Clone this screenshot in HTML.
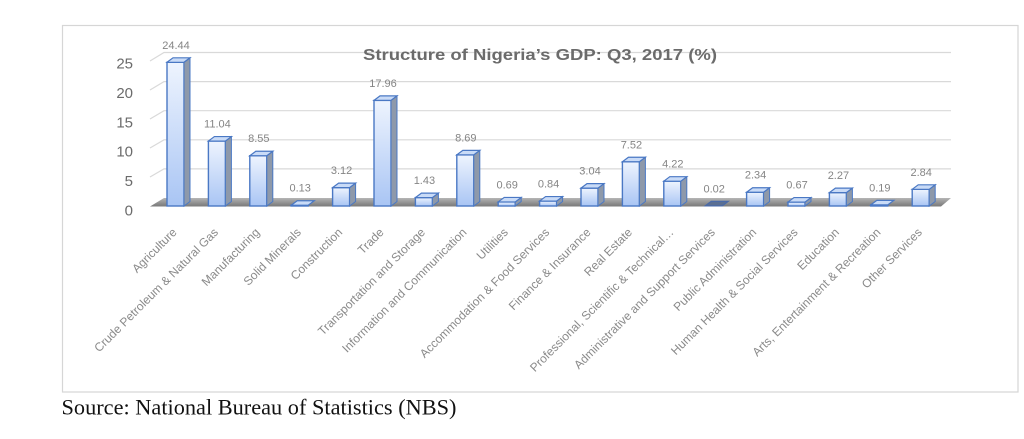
<!DOCTYPE html>
<html>
<head>
<meta charset="utf-8">
<style>
  html,body{margin:0;padding:0;background:#fff;}
  body{width:1024px;height:439px;overflow:hidden;position:relative;}
  svg{position:absolute;left:0;top:0;}
  .f{fill:url(#gf);stroke:#4a78c4;stroke-width:1.4;}
  .s{fill:#8e99aa;stroke:#4a78c4;stroke-width:1;}
  .t{fill:#c9dbf7;stroke:#4a78c4;stroke-width:1.2;}
  .dl{font-family:"Liberation Sans",sans-serif;font-size:11px;fill:#858585;text-anchor:middle;}
  .yl{font-family:"Liberation Sans",sans-serif;font-size:15px;fill:#6b6b6b;text-anchor:end;}
  .xl{font-family:"Liberation Sans",sans-serif;font-size:12px;fill:#8a8a8a;text-anchor:end;}
  .gl{stroke:#d9d9d9;stroke-width:1.2;fill:none;}
</style>
</head>
<body>
<svg width="1024" height="439" viewBox="0 0 1024 439" xmlns="http://www.w3.org/2000/svg">
  <defs>
    <linearGradient id="gf" x1="0" y1="0" x2="0" y2="1">
      <stop offset="0" stop-color="#eef4fe"/>
      <stop offset="1" stop-color="#a9c5f4"/>
    </linearGradient>
    <linearGradient id="gfl" x1="0" y1="0" x2="0" y2="1">
      <stop offset="0" stop-color="#b5b5b5"/>
      <stop offset="0.6" stop-color="#8f8f8f"/>
      <stop offset="1" stop-color="#7a7a7a"/>
    </linearGradient>
  </defs>

  <!-- frame -->
  <rect x="62.5" y="25.5" width="955.5" height="366.5" fill="#fff" stroke="#d6d6d6" stroke-width="1.2"/>

  <!-- gridlines -->
  <polyline class="gl" points="150,61 164,52.5 951,52.5"/>
  <polyline class="gl" points="150,90 164,81.6 951,81.6"/>
  <polyline class="gl" points="150,119 164,110.7 951,110.7"/>
  <polyline class="gl" points="150,148 164,139.8 951,139.8"/>
  <polyline class="gl" points="150,177 164,168.9 951,168.9"/>

  <!-- floor -->
  <polygon points="150,206.5 941,206.5 951,198 164,198" fill="url(#gfl)"/>

  <!-- bars -->
  <g transform="translate(167,62.29)"><rect class="f" width="17" height="143.71"/><polygon class="s" points="17,0 23,-4.5 23,139.21 17,143.71"/><polygon class="t" points="0,0 6,-4.5 23,-4.5 17,0"/></g>
  <g transform="translate(208.4,141.08)"><rect class="f" width="17" height="64.92"/><polygon class="s" points="17,0 23,-4.5 23,60.42 17,64.92"/><polygon class="t" points="0,0 6,-4.5 23,-4.5 17,0"/></g>
  <g transform="translate(249.8,155.73)"><rect class="f" width="17" height="50.27"/><polygon class="s" points="17,0 23,-4.5 23,45.77 17,50.27"/><polygon class="t" points="0,0 6,-4.5 23,-4.5 17,0"/></g>
  <g transform="translate(291.2,205.24)"><rect class="f" width="17" height="0.76"/><polygon class="t" points="0,0 6,-4.5 23,-4.5 17,0"/></g>
  <g transform="translate(332.6,187.65)"><rect class="f" width="17" height="18.35"/><polygon class="s" points="17,0 23,-4.5 23,13.85 17,18.35"/><polygon class="t" points="0,0 6,-4.5 23,-4.5 17,0"/></g>
  <g transform="translate(374,100.4)"><rect class="f" width="17" height="105.6"/><polygon class="s" points="17,0 23,-4.5 23,101.1 17,105.6"/><polygon class="t" points="0,0 6,-4.5 23,-4.5 17,0"/></g>
  <g transform="translate(415.4,197.59)"><rect class="f" width="17" height="8.41"/><polygon class="s" points="17,0 23,-4.5 23,3.91 17,8.41"/><polygon class="t" points="0,0 6,-4.5 23,-4.5 17,0"/></g>
  <g transform="translate(456.8,154.9)"><rect class="f" width="17" height="51.1"/><polygon class="s" points="17,0 23,-4.5 23,46.6 17,51.1"/><polygon class="t" points="0,0 6,-4.5 23,-4.5 17,0"/></g>
  <g transform="translate(498.2,201.94)"><rect class="f" width="17" height="4.06"/><polygon class="s" points="17,0 23,-4.5 23,-0.44 17,4.06"/><polygon class="t" points="0,0 6,-4.5 23,-4.5 17,0"/></g>
  <g transform="translate(539.6,201.06)"><rect class="f" width="17" height="4.94"/><polygon class="s" points="17,0 23,-4.5 23,0.44 17,4.94"/><polygon class="t" points="0,0 6,-4.5 23,-4.5 17,0"/></g>
  <g transform="translate(581,188.12)"><rect class="f" width="17" height="17.88"/><polygon class="s" points="17,0 23,-4.5 23,13.38 17,17.88"/><polygon class="t" points="0,0 6,-4.5 23,-4.5 17,0"/></g>
  <g transform="translate(622.4,161.78)"><rect class="f" width="17" height="44.22"/><polygon class="s" points="17,0 23,-4.5 23,39.72 17,44.22"/><polygon class="t" points="0,0 6,-4.5 23,-4.5 17,0"/></g>
  <g transform="translate(663.8,181.19)"><rect class="f" width="17" height="24.81"/><polygon class="s" points="17,0 23,-4.5 23,20.31 17,24.81"/><polygon class="t" points="0,0 6,-4.5 23,-4.5 17,0"/></g>
  <g transform="translate(705.2,205.88)"><polygon points="0,0 6,-4.5 23,-4.5 17,0" fill="#5b6f92" stroke="#4a6aa8" stroke-width="1.2"/></g>
  <g transform="translate(746.6,192.24)"><rect class="f" width="17" height="13.76"/><polygon class="s" points="17,0 23,-4.5 23,9.26 17,13.76"/><polygon class="t" points="0,0 6,-4.5 23,-4.5 17,0"/></g>
  <g transform="translate(788,202.06)"><rect class="f" width="17" height="3.94"/><polygon class="s" points="17,0 23,-4.5 23,-0.56 17,3.94"/><polygon class="t" points="0,0 6,-4.5 23,-4.5 17,0"/></g>
  <g transform="translate(829.4,192.65)"><rect class="f" width="17" height="13.35"/><polygon class="s" points="17,0 23,-4.5 23,8.85 17,13.35"/><polygon class="t" points="0,0 6,-4.5 23,-4.5 17,0"/></g>
  <g transform="translate(870.8,204.88)"><rect class="f" width="17" height="1.12"/><polygon class="t" points="0,0 6,-4.5 23,-4.5 17,0"/></g>
  <g transform="translate(912.2,189.3)"><rect class="f" width="17" height="16.7"/><polygon class="s" points="17,0 23,-4.5 23,12.2 17,16.7"/><polygon class="t" points="0,0 6,-4.5 23,-4.5 17,0"/></g>

  <!-- data labels -->
  <text class="dl" x="176" y="48.8">24.44</text>
  <text class="dl" x="217.4" y="127.6">11.04</text>
  <text class="dl" x="258.8" y="142.2">8.55</text>
  <text class="dl" x="300.2" y="191.7">0.13</text>
  <text class="dl" x="341.6" y="174.1">3.12</text>
  <text class="dl" x="383" y="86.9">17.96</text>
  <text class="dl" x="424.4" y="184.1">1.43</text>
  <text class="dl" x="465.8" y="141.4">8.69</text>
  <text class="dl" x="507.2" y="188.4">0.69</text>
  <text class="dl" x="548.6" y="187.6">0.84</text>
  <text class="dl" x="590" y="174.6">3.04</text>
  <text class="dl" x="631.4" y="148.3">7.52</text>
  <text class="dl" x="672.8" y="167.7">4.22</text>
  <text class="dl" x="714.2" y="192.4">0.02</text>
  <text class="dl" x="755.6" y="178.7">2.34</text>
  <text class="dl" x="797" y="188.6">0.67</text>
  <text class="dl" x="838.4" y="179.2">2.27</text>
  <text class="dl" x="879.8" y="191.4">0.19</text>
  <text class="dl" x="921.2" y="175.8">2.84</text>

  <!-- title -->
  <text x="363" y="60" font-family="'Liberation Sans',sans-serif" font-size="16" font-weight="bold" fill="#6b6b6b" textLength="354" lengthAdjust="spacingAndGlyphs">Structure of Nigeria’s GDP: Q3, 2017 (%)</text>

  <!-- y axis labels -->
  <text class="yl" x="133" y="68.6">25</text>
  <text class="yl" x="133" y="97.9">20</text>
  <text class="yl" x="133" y="127.3">15</text>
  <text class="yl" x="133" y="156.6">10</text>
  <text class="yl" x="133" y="185.9">5</text>
  <text class="yl" x="133" y="215.3">0</text>

  <!-- x axis labels -->
  <text class="xl" transform="translate(177.5,233) rotate(-45)">Agriculture</text>
  <text class="xl" transform="translate(218.9,233) rotate(-45)">Crude Petroleum &amp; Natural Gas</text>
  <text class="xl" transform="translate(260.3,233) rotate(-45)">Manufacturing</text>
  <text class="xl" transform="translate(301.7,233) rotate(-45)">Solid Minerals</text>
  <text class="xl" transform="translate(343.1,233) rotate(-45)">Construction</text>
  <text class="xl" transform="translate(384.5,233) rotate(-45)">Trade</text>
  <text class="xl" transform="translate(425.9,233) rotate(-45)">Transportation and Storage</text>
  <text class="xl" transform="translate(467.3,233) rotate(-45)">Information and Communication</text>
  <text class="xl" transform="translate(508.7,233) rotate(-45)">Utilities</text>
  <text class="xl" transform="translate(550.1,233) rotate(-45)">Accommodation &amp; Food Services</text>
  <text class="xl" transform="translate(591.5,233) rotate(-45)">Finance &amp; Insurance</text>
  <text class="xl" transform="translate(632.9,233) rotate(-45)">Real Estate</text>
  <text class="xl" transform="translate(674.3,233) rotate(-45)">Professional, Scientific &amp; Technical…</text>
  <text class="xl" transform="translate(715.7,233) rotate(-45)">Administrative and Support Services</text>
  <text class="xl" transform="translate(757.1,233) rotate(-45)">Public Administration</text>
  <text class="xl" transform="translate(798.5,233) rotate(-45)">Human Health &amp; Social Services</text>
  <text class="xl" transform="translate(839.9,233) rotate(-45)">Education</text>
  <text class="xl" transform="translate(881.3,233) rotate(-45)">Arts, Entertainment &amp; Recreation</text>
  <text class="xl" transform="translate(922.7,233) rotate(-45)">Other Services</text>

  <!-- source -->
  <text x="61.5" y="414.3" font-family="'Liberation Serif',serif" font-size="22.5" fill="#111" textLength="395" lengthAdjust="spacingAndGlyphs">Source: National Bureau of Statistics (NBS)</text>
</svg>
</body>
</html>
